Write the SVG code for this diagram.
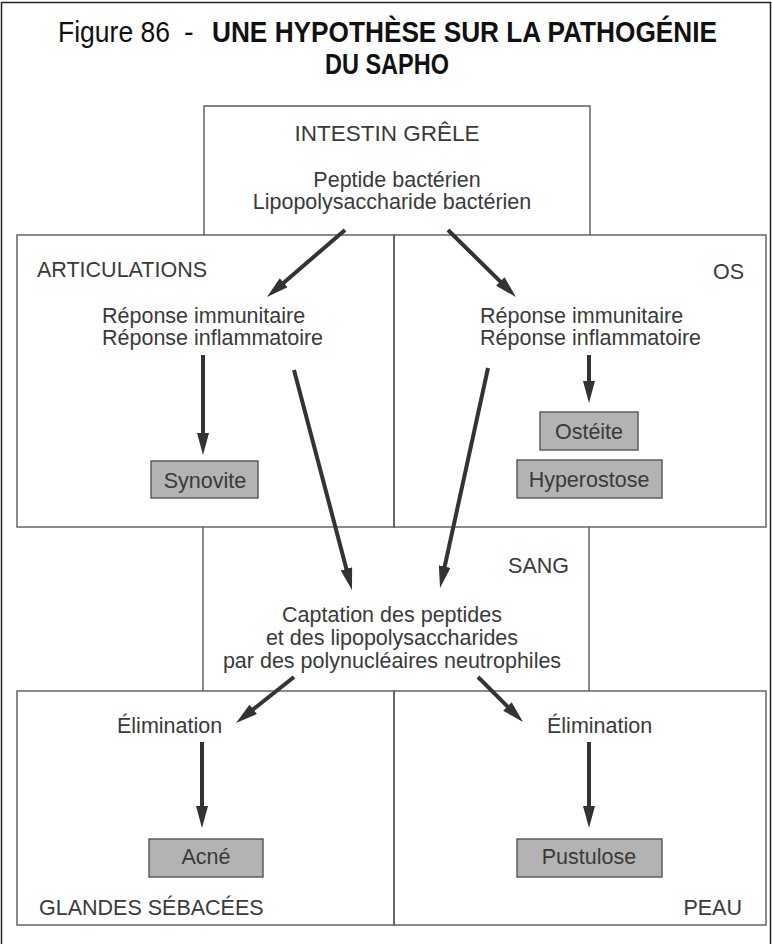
<svg xmlns="http://www.w3.org/2000/svg" width="772" height="944" viewBox="0 0 772 944">
<style>
  .frame{fill:none;stroke:#222;stroke-width:1.5}
  .box{fill:none;stroke:#5a5a5a;stroke-width:1.4}
  .shade{fill:#b3b3b3;stroke:#555;stroke-width:1.4}
  .t{font-family:"Liberation Sans",Arial,Helvetica,sans-serif;font-size:21.5px;fill:#3a3a3a}
  .c{text-anchor:middle}
  .e{text-anchor:end}
  .title{font-family:"Liberation Sans",Arial,Helvetica,sans-serif;font-size:29px;fill:#111}
  .b{font-weight:bold}
  .arrow{stroke:#333;stroke-width:4;fill:none;marker-end:url(#ah)}
</style>
<defs>
  <marker id="ah" markerUnits="userSpaceOnUse" markerWidth="22" markerHeight="12" viewBox="0 0 22 12" refX="8" refY="6" orient="auto">
    <path d="M0,0 L22,6 L0,12 z" fill="#333"/>
  </marker>
</defs>
<rect width="772" height="944" fill="#fff"/>
<path class="frame" d="M1.5,944 V2.5 H770.5 V944"/>
<g id="title">
  <text class="title" x="58" y="42" textLength="112" lengthAdjust="spacingAndGlyphs">Figure 86</text>
  <text class="title" x="184" y="42">-</text>
  <text class="title b" x="212" y="42" textLength="505" lengthAdjust="spacingAndGlyphs">UNE HYPOTHÈSE SUR LA PATHOGÉNIE</text>
  <text class="title b" x="325" y="74" textLength="124" lengthAdjust="spacingAndGlyphs">DU SAPHO</text>
</g>
<g id="intestin">
  <path class="box" d="M204,235 V106 H590 V235"/>
  <text class="t c" x="387" y="141" style="font-size:22.5px">INTESTIN GRÊLE</text>
  <text class="t c" x="397" y="187">Peptide bactérien</text>
  <text class="t c" x="392" y="209">Lipopolysaccharide bactérien</text>
</g>
<g id="articulations">
  <rect class="box" x="17" y="235" width="377" height="292"/>
  <text class="t" x="37" y="277">ARTICULATIONS</text>
  <text class="t" x="102" y="323">Réponse immunitaire</text>
  <text class="t" x="102" y="345">Réponse inflammatoire</text>
</g>
<g id="synovite">
  <rect class="shade" x="151" y="461" width="107" height="37"/>
  <text class="t c" x="205" y="488">Synovite</text>
</g>
<g id="os">
  <rect class="box" x="394" y="235" width="372" height="292"/>
  <text class="t e" x="744" y="279">OS</text>
  <text class="t" x="480" y="323">Réponse immunitaire</text>
  <text class="t" x="480" y="345">Réponse inflammatoire</text>
</g>
<g id="osteite">
  <rect class="shade" x="540" y="412" width="98" height="38"/>
  <text class="t c" x="589" y="439">Ostéite</text>
</g>
<g id="hyperostose">
  <rect class="shade" x="517" y="460" width="145" height="38"/>
  <text class="t c" x="589" y="487">Hyperostose</text>
</g>
<g id="sang">
  <path class="box" d="M203,527 V691 M589,527 V691"/>
  <text class="t e" x="569" y="573">SANG</text>
  <text class="t c" x="392" y="622">Captation des peptides</text>
  <text class="t c" x="392" y="645">et des lipopolysaccharides</text>
  <text class="t c" x="392" y="668">par des polynucléaires neutrophiles</text>
</g>
<g id="glandes">
  <rect class="box" x="17" y="691" width="377" height="234"/>
  <text class="t" x="117" y="733">Élimination</text>
  <text class="t" x="39" y="915">GLANDES SÉBACÉES</text>
</g>
<g id="acne">
  <rect class="shade" x="149" y="839" width="114" height="38"/>
  <text class="t c" x="206" y="864">Acné</text>
</g>
<g id="peau">
  <rect class="box" x="394" y="691" width="372" height="234"/>
  <text class="t" x="547" y="733">Élimination</text>
  <text class="t e" x="742" y="915">PEAU</text>
</g>
<g id="pustulose">
  <rect class="shade" x="517" y="839" width="145" height="38"/>
  <text class="t c" x="589" y="864">Pustulose</text>
</g>
<g id="connectors">
  <line class="arrow" x1="345" y1="230" x2="277.6" y2="287.9"/>
  <line class="arrow" x1="448" y1="230" x2="506" y2="287.2"/>
  <line class="arrow" x1="203" y1="355" x2="203" y2="441"/>
  <line class="arrow" x1="589" y1="355" x2="589" y2="389"/>
  <line class="arrow" x1="294" y1="370" x2="348.4" y2="576.5"/>
  <line class="arrow" x1="488" y1="368" x2="443" y2="574.3"/>
  <line class="arrow" x1="294" y1="677" x2="247" y2="714.3"/>
  <line class="arrow" x1="478" y1="677" x2="513.1" y2="712.1"/>
  <line class="arrow" x1="202" y1="742" x2="202" y2="814"/>
  <line class="arrow" x1="589" y1="742" x2="589" y2="814"/>
</g>
</svg>
